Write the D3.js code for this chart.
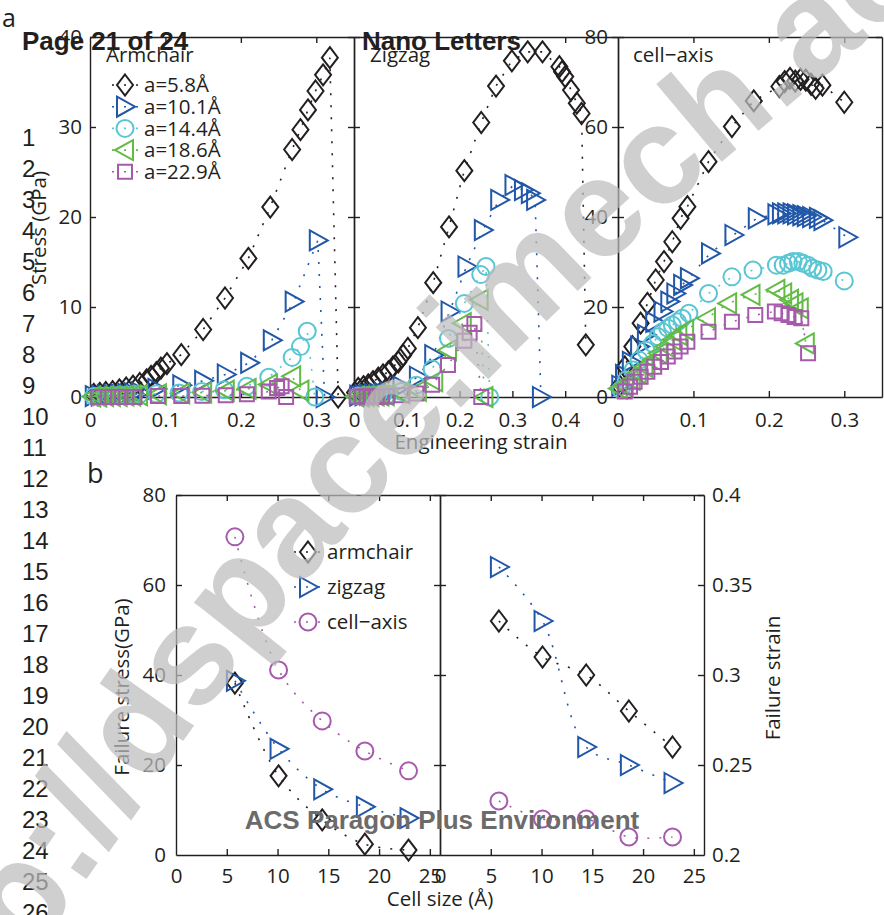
<!DOCTYPE html>
<html>
<head>
<meta charset="utf-8">
<script src="https://cdn.jsdelivr.net/npm/d3@7"></script>
<style>
  body { margin: 0; background: #fff; }
  svg text { font-family: "Open Sans", sans-serif; fill: #231f20; }
  .axis text { font-family: "Open Sans", sans-serif; font-size: 20.5px; fill: #231f20; }
  .axis path, .axis line { stroke: #231f20; stroke-width: 1.4; }
  .page { font-family: "Liberation Sans", Arial, sans-serif !important; }
</style>
</head>
<body>
<svg id="chart" width="884" height="915"></svg>
<script>
'use strict';

// ---- panel a : stress-strain curves, [strain, stress GPa] ----
const sizeLabels = ['a=5.8Å', 'a=10.1Å', 'a=14.4Å', 'a=18.6Å', 'a=22.9Å'];

const arm58 = [[0.005,0.3],[0.013,0.4],[0.021,0.5],[0.030,0.6],[0.039,0.8],[0.048,1.0],[0.057,1.2],[0.066,1.5],[0.075,1.9],[0.081,2.3],[0.088,2.7],[0.094,3.2],[0.102,3.7],[0.121,4.7],[0.150,7.5],[0.179,11.0],[0.210,15.4],[0.239,21.1],[0.268,27.5],[0.279,29.7],[0.289,31.9],[0.299,34.0],[0.309,35.8],[0.318,37.7],[0.329,0]];
const arm101 = [[0.005,0.1],[0.013,0.15],[0.021,0.2],[0.030,0.25],[0.039,0.3],[0.048,0.35],[0.057,0.4],[0.066,0.5],[0.088,0.9],[0.121,1.3],[0.150,1.8],[0.180,2.5],[0.211,3.8],[0.241,6.3],[0.270,10.6],[0.302,17.4],[0.311,0]];
const arm144 = [[0.005,0.05],[0.013,0.1],[0.021,0.1],[0.030,0.15],[0.039,0.2],[0.048,0.2],[0.057,0.25],[0.066,0.3],[0.088,0.35],[0.118,0.45],[0.148,0.6],[0.178,0.8],[0.208,1.2],[0.237,2.2],[0.268,4.4],[0.279,5.6],[0.288,7.3],[0.298,0]];
const arm186 = [[0.003,0.05],[0.011,0.05],[0.020,0.1],[0.029,0.1],[0.038,0.1],[0.047,0.15],[0.056,0.15],[0.065,0.2],[0.090,0.3],[0.121,0.4],[0.150,0.5],[0.180,0.7],[0.209,0.9],[0.237,1.4],[0.268,2.3],[0.279,0.7]];
const arm229 = [[0.011,0],[0.024,0],[0.037,0],[0.048,0],[0.059,0],[0.090,0.1],[0.121,0.1],[0.149,0.15],[0.180,0.2],[0.208,0.3],[0.237,0.6],[0.248,1.0],[0.254,1.2],[0.260,0]];

const zz58 = [[0.002,1.0],[0.008,1.9],[0.018,2.3],[0.027,2.7],[0.036,3.4],[0.046,4.2],[0.055,4.9],[0.065,5.6],[0.074,6.7],[0.084,7.8],[0.093,9.3],[0.102,10.8],[0.121,15.4],[0.150,25.4],[0.180,37.8],[0.209,50.3],[0.241,61.0],[0.269,69.1],[0.299,74.7],[0.329,76.7],[0.357,76.7],[0.389,73.4],[0.394,72.3],[0.400,71.2],[0.411,68.2],[0.422,65.3],[0.431,63.0],[0.439,11.6]];
const zz101 = [[0.008,0.3],[0.018,0.4],[0.027,0.5],[0.036,0.6],[0.046,0.7],[0.055,0.8],[0.065,1.0],[0.090,2.3],[0.121,4.5],[0.150,9.3],[0.181,19.0],[0.213,29.0],[0.244,37.1],[0.275,43.8],[0.302,47.1],[0.320,46.0],[0.333,45.3],[0.343,43.8],[0.354,0]];
const zz144 = [[0.008,0.2],[0.018,0.3],[0.027,0.3],[0.036,0.4],[0.046,0.5],[0.055,0.5],[0.065,0.6],[0.090,1.2],[0.118,2.6],[0.148,6.2],[0.179,13.0],[0.209,20.8],[0.240,27.2],[0.250,29.0],[0.257,0]];
const zz186 = [[0.003,0.1],[0.013,0.1],[0.022,0.2],[0.031,0.2],[0.041,0.3],[0.050,0.3],[0.060,0.4],[0.090,0.8],[0.121,1.4],[0.152,3.5],[0.178,10.4],[0.206,16.4],[0.238,21.6],[0.247,0]];
const zz229 = [[0.005,0.1],[0.015,0.1],[0.024,0.1],[0.034,0.1],[0.043,0.1],[0.053,0.1],[0.062,0.1],[0.090,0.4],[0.118,0.8],[0.148,2.7],[0.178,7.1],[0.209,12.5],[0.219,14.3],[0.228,16.2],[0.241,0]];

const ca58 = [[0.002,2.5],[0.009,6.7],[0.019,11.2],[0.030,16.4],[0.039,20.8],[0.050,26.0],[0.061,30.1],[0.072,34.5],[0.083,39.7],[0.092,42.3],[0.120,52.3],[0.151,60.1],[0.180,65.8],[0.214,69.0],[0.221,70.1],[0.228,70.8],[0.235,70.2],[0.242,70.6],[0.249,70.4],[0.256,69.5],[0.262,68.6],[0.271,69.3],[0.300,65.5]];
const ca101 = [[0.003,2.5],[0.008,4.9],[0.017,7.8],[0.028,11.2],[0.037,13.8],[0.048,16.7],[0.059,19.0],[0.068,21.2],[0.076,23.0],[0.085,24.9],[0.094,26.4],[0.122,31.9],[0.153,36.0],[0.184,39.7],[0.210,40.6],[0.216,40.8],[0.223,40.8],[0.230,40.8],[0.236,40.6],[0.243,40.4],[0.249,40.2],[0.256,40.0],[0.265,39.8],[0.271,39.3],[0.304,35.5]];
const ca144 = [[0.004,1.6],[0.011,3.8],[0.020,6.0],[0.028,8.2],[0.037,10.4],[0.046,11.9],[0.053,13.4],[0.059,14.5],[0.066,15.3],[0.072,16.0],[0.079,16.7],[0.085,17.5],[0.094,18.6],[0.120,23.0],[0.151,26.7],[0.179,28.2],[0.210,29.3],[0.219,29.3],[0.226,29.7],[0.232,30.1],[0.239,30.1],[0.245,29.7],[0.252,29.3],[0.258,28.6],[0.265,28.2],[0.272,27.9],[0.300,25.8]];
const ca186 = [[0.001,1.9],[0.009,2.3],[0.018,3.8],[0.026,5.3],[0.035,6.7],[0.046,8.2],[0.054,9.7],[0.063,11.2],[0.072,12.7],[0.080,13.8],[0.089,14.9],[0.118,17.5],[0.146,20.8],[0.177,22.7],[0.210,23.8],[0.219,23.0],[0.228,21.6],[0.234,20.8],[0.241,19.7],[0.249,11.9]];
const ca229 = [[0.009,1.2],[0.016,2.3],[0.022,3.4],[0.030,4.5],[0.039,5.6],[0.048,6.7],[0.057,7.8],[0.066,9.0],[0.075,10.1],[0.083,11.2],[0.092,12.3],[0.120,14.5],[0.151,16.7],[0.182,18.2],[0.208,19.0],[0.217,18.6],[0.226,18.2],[0.234,17.8],[0.243,17.5],[0.252,9.7]];

const armchairCurves = [arm58, arm101, arm144, arm186, arm229];
const zigzagCurves = [zz58, zz101, zz144, zz186, zz229];
const cellAxisCurves = [ca58, ca101, ca144, ca186, ca229];

// ---- panel b : failure values vs cell size ----
const cellSize = [5.8, 10.1, 14.4, 18.6, 22.9];
const failStressArmchair = [38.2, 17.6, 7.8, 2.4, 1.1];
const failStressZigzag = [38.7, 23.6, 14.6, 10.7, 8.2];
const failStressCellAxis = [70.7, 41.1, 29.8, 23.1, 18.7];
const failStrainArmchair = [0.33, 0.31, 0.30, 0.28, 0.26];
const failStrainZigzag = [0.36, 0.33, 0.26, 0.25, 0.24];
const failStrainCellAxis = [0.23, 0.22, 0.22, 0.21, 0.21];
const directionNames = ['armchair', 'zigzag', 'cell\u2212axis'];

// tick labels
const strainTicks3 = [0, 0.1, 0.2, 0.3];
const strainTicks4 = [0, 0.1, 0.2, 0.3, 0.4];
const stressTicks40 = [0, 10, 20, 30, 40];
const stressTicks80 = [0, 20, 40, 60, 80];
const sizeTicks = [0, 5, 10, 15, 20, 25];
const failStrainTicks = [0.2, 0.25, 0.3, 0.35, 0.4];

const colors = ['#231f20', '#2157a8', '#5bc6d3', '#62bb45', '#a65aab'];
const shapes = ['diamond', 'triRight', 'circle', 'triLeft', 'square'];

const svg = d3.select('#chart');

function markerPath(shape) {
  if (shape === 'diamond') return 'M0,-10.5L8,0L0,10.5L-8,0Z';
  if (shape === 'triRight') return 'M-8,-10L10,0L-8,10Z';
  if (shape === 'triLeft') return 'M8,-10L-10,0L8,10Z';
  if (shape === 'square') return 'M-7,-7H7V7H-7Z';
  return d3.symbol(d3.symbolCircle, Math.PI * 8.5 * 8.5)();
}

// page line numbers (behind everything)
svg.append('g').selectAll('text')
  .data(d3.range(1, 27))
  .enter().append('text')
    .attr('class', 'page')
    .attr('x', 22)
    .attr('y', d => 137 + (d - 1) * 31 + 8.6)
    .attr('font-size', 24)
    .text(d => d);

// box with inward ticks on four sides
function drawFrame(g, x, y, o) {
  const [x0, x1] = x.range();
  const [yb, yt] = y.range();
  g.append('g').attr('class', 'axis xlab').attr('transform', `translate(0,${yb})`)
    .call(d3.axisBottom(x).tickValues(o.xTicks).tickSize(-6).tickSizeOuter(0).tickPadding(o.xPad || 15)
      .tickFormat(o.xLabels ? (d => d) : ''));
  g.append('g').attr('class', 'axis').attr('transform', `translate(0,${yt})`)
    .call(d3.axisTop(x).tickValues(o.xTicks).tickSize(-6).tickSizeOuter(0).tickFormat(''));
  g.append('g').attr('class', 'axis').attr('transform', `translate(${x0},0)`)
    .call(d3.axisLeft(y).tickValues(o.yTicks).tickSize(-6).tickSizeOuter(0).tickPadding(o.leftPad || 9)
      .tickFormat(o.leftLabels ? (d => d) : ''));
  g.append('g').attr('class', 'axis').attr('transform', `translate(${x1},0)`)
    .call(d3.axisRight(y).tickValues(o.yTicks).tickSize(-6).tickSizeOuter(0).tickPadding(8)
      .tickFormat(o.rightLabels ? (d => d) : ''));
  g.selectAll('.axis').attr('font-size', null).attr('font-family', null);
  // no tick marks on the box corners
  g.selectAll('.axis .tick line').filter(d => d === x.domain()[0] || d === y.domain()[0]).attr('opacity', 0);
}

function drawSeries(g, pts, x, y, color, shape, curve) {
  g.append('path')
    .datum(pts)
    .attr('d', d3.line().x(d => x(d[0])).y(d => y(d[1])).curve(curve || d3.curveLinear))
    .attr('fill', 'none')
    .attr('stroke', color)
    .attr('stroke-width', 1.6)
    .attr('stroke-dasharray', '2,10');
  g.selectAll(null)
    .data(pts)
    .enter().append('path')
      .attr('transform', d => `translate(${x(d[0])},${y(d[1])})`)
      .attr('d', markerPath(shape))
      .attr('fill', 'none')
      .attr('stroke', color)
      .attr('stroke-width', 2);
}

// ---------- panel a ----------
const aTop = 37, aBottom = 397;
const subplots = [
  {left: 90, right: 354, xMax: 0.35, yMax: 40, xTicks: strainTicks3, yTicks: stressTicks40, curves: armchairCurves, title: 'Armchair', titleX: 106, leftLabels: true},
  {left: 354, right: 618, xMax: 0.5, yMax: 80, xTicks: strainTicks4, yTicks: stressTicks80, curves: zigzagCurves, title: 'Zigzag', titleX: 370, leftLabels: false},
  {left: 618, right: 882, xMax: 0.35, yMax: 80, xTicks: strainTicks3, yTicks: stressTicks80, curves: cellAxisCurves, title: 'cell\u2212axis', titleX: 633, leftLabels: true}
];

subplots.forEach((s) => {
  let g = svg.append('g');
  let x = d3.scaleLinear().domain([0, s.xMax]).range([s.left, s.right]);
  let y = d3.scaleLinear().domain([0, s.yMax]).range([aBottom, aTop]);
  drawFrame(g, x, y, {xTicks: s.xTicks, yTicks: s.yTicks, xLabels: true, leftLabels: s.leftLabels, leftPad: s.left === 90 ? 8 : 10});
  s.curves.forEach((pts, i) => drawSeries(g, pts, x, y, colors[i], shapes[i]));
  g.append('text').attr('x', s.titleX).attr('y', 62).attr('font-size', 20.5).text(s.title);
});

// legend of panel a
let legA = svg.append('g');
sizeLabels.forEach((lab, i) => {
  let ly = 85 + i * 21.7;
  legA.append('line').attr('x1', 112).attr('x2', 138).attr('y1', ly).attr('y2', ly)
    .attr('stroke', colors[i]).attr('stroke-width', 1.6).attr('stroke-dasharray', '2,10');
  legA.append('path').attr('transform', `translate(125,${ly})`).attr('d', markerPath(shapes[i]))
    .attr('fill', 'none').attr('stroke', colors[i]).attr('stroke-width', 2);
  legA.append('text').attr('x', 144).attr('y', ly).attr('dy', '0.35em').attr('font-size', 20.5).text(lab);
});

svg.append('text').attr('x', 39).attr('y', 228)
  .attr('transform', 'rotate(-90,39,228)').attr('text-anchor', 'middle').attr('dy', '0.35em')
  .attr('font-size', 20.5).text('Stress (GPa)');
svg.append('text').attr('x', 481).attr('y', 449).attr('text-anchor', 'middle')
  .attr('font-size', 20.5).text('Engineering strain');
svg.append('text').attr('x', 2).attr('y', 27).attr('font-size', 25).text('a');

// ---------- panel b ----------
const bTop = 495, bBottom = 855;
let xb1 = d3.scaleLinear().domain([0, 26]).range([176, 440]);
let xb2 = d3.scaleLinear().domain([0, 26]).range([440, 704]);
let yStress = d3.scaleLinear().domain([0, 80]).range([bBottom, bTop]);
let yStrain = d3.scaleLinear().domain([0.2, 0.4]).range([bBottom, bTop]);

let gb1 = svg.append('g');
drawFrame(gb1, xb1, yStress, {xTicks: sizeTicks, yTicks: stressTicks80, xLabels: true, leftLabels: true, leftPad: 10, xPad: 13});
let gb2 = svg.append('g');
drawFrame(gb2, xb2, yStrain, {xTicks: sizeTicks, yTicks: failStrainTicks, xLabels: true, leftLabels: false, rightLabels: true, xPad: 13});

const stressSets = [failStressArmchair, failStressZigzag, failStressCellAxis];
const strainSets = [failStrainArmchair, failStrainZigzag, failStrainCellAxis];
const bColors = [colors[0], colors[1], colors[4]];
const bShapes = ['diamond', 'triRight', 'circle'];

stressSets.forEach((vals, k) => {
  drawSeries(gb1, vals.map((v, i) => [cellSize[i], v]), xb1, yStress, bColors[k], bShapes[k], d3.curveCatmullRom);
});
strainSets.forEach((vals, k) => {
  drawSeries(gb2, vals.map((v, i) => [cellSize[i], v]), xb2, yStrain, bColors[k], bShapes[k], d3.curveCatmullRom);
});

// legend of panel b
let legB = svg.append('g');
directionNames.forEach((lab, k) => {
  let ly = 552 + k * 35;
  legB.append('line').attr('x1', 294).attr('x2', 322).attr('y1', ly).attr('y2', ly)
    .attr('stroke', bColors[k]).attr('stroke-width', 1.6).attr('stroke-dasharray', '2,10');
  legB.append('path').attr('transform', `translate(308,${ly})`).attr('d', markerPath(bShapes[k]))
    .attr('fill', 'none').attr('stroke', bColors[k]).attr('stroke-width', 2);
  legB.append('text').attr('x', 327).attr('y', ly).attr('dy', '0.35em').attr('font-size', 20.5).text(lab);
});

svg.append('text').attr('x', 122).attr('y', 687)
  .attr('transform', 'rotate(-90,122,687)').attr('text-anchor', 'middle').attr('dy', '0.35em')
  .attr('font-size', 20.5).text('Failure stress(GPa)');
svg.append('text').attr('x', 773).attr('y', 678)
  .attr('transform', 'rotate(-90,773,678)').attr('text-anchor', 'middle').attr('dy', '0.35em')
  .attr('font-size', 20.5).text('Failure strain');
svg.append('text').attr('x', 440).attr('y', 906).attr('text-anchor', 'middle')
  .attr('font-size', 20.5).text('Cell size (Å)');
svg.append('text').attr('x', 87).attr('y', 483).attr('font-size', 27).text('b');

// ---------- page overlay ----------
svg.append('text').attr('class', 'page').attr('x', 22).attr('y', 50)
  .attr('font-size', 26).attr('font-weight', 'bold').text('Page 21 of 24');
svg.append('text').attr('class', 'page').attr('x', 362).attr('y', 50)
  .attr('font-size', 26).attr('font-weight', 'bold').text('Nano Letters');
svg.append('text').attr('class', 'page').attr('x', 442).attr('y', 829)
  .attr('text-anchor', 'middle').attr('font-size', 26).attr('font-weight', 'bold')
  .style('fill', '#6b6b6b').text('ACS Paragon Plus Environment');

// watermark, set on a slight arc
svg.append('defs').append('path')
  .attr('id', 'wmArc')
  .attr('d', 'M-112,1162 L175,753 Q401,431 751,137 L1134,-185');
svg.append('text').attr('class', 'page')
  .attr('font-size', 140).attr('font-weight', 'bold')
  .style('fill', '#bdbdbd').attr('opacity', 0.72)
  .append('textPath')
    .attr('href', '#wmArc')
    .attr('startOffset', 68)
    .text('http://dspace.imech.ac.cn');
</script>
</body>
</html>
